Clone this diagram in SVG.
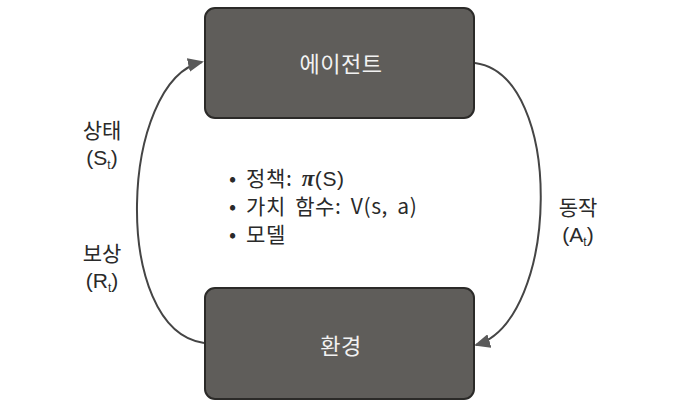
<svg xmlns="http://www.w3.org/2000/svg" width="682" height="409" viewBox="0 0 682 409">
<style>
.box{fill:#5f5d5a;stroke:#2b2a28;stroke-width:2}
.bt{font-family:"Noto Sans CJK KR","Noto Sans",sans-serif;font-size:22px;fill:#f2f2f2;text-anchor:middle;letter-spacing:0.5px}
.lb{font-family:"Noto Sans CJK KR","Liberation Sans",sans-serif;font-size:21px;fill:#2a2a2a;text-anchor:middle}
.lp{font-family:"Liberation Sans",Arial,sans-serif;font-size:21px;fill:#2a2a2a;text-anchor:middle}
.li{font-family:"Noto Sans CJK KR","Liberation Sans",sans-serif;font-size:21px;fill:#2a2a2a;word-spacing:4px;letter-spacing:0.6px}
.sub{font-size:12px}
.conn{fill:none;stroke:#454545;stroke-width:2}
</style>
<defs>
<marker id="ah" markerWidth="16" markerHeight="14" refX="14" refY="7" orient="auto" markerUnits="userSpaceOnUse">
<path d="M0,0 L16,7 L0,14 Z" fill="#5a5a5a"/>
</marker>
</defs>
<rect width="682" height="409" fill="#ffffff"/>
<g id="connectors">
<path class="conn" d="M204,343 C110,330 120,80 202,62" marker-end="url(#ah)"/>
<path class="conn" d="M475,63 C565,75 560,320 476,345" marker-end="url(#ah)"/>
</g>
<g id="agent">
<rect class="box" x="205" y="8" width="269" height="110" rx="10"/>
<text class="bt" x="341" y="72">에이전트</text>
</g>
<g id="environment">
<rect class="box" x="205" y="288" width="269" height="111" rx="10"/>
<text class="bt" x="341" y="354">환경</text>
</g>
<g id="labels">
<text class="lb" x="102" y="138">상태</text>
<text class="lp" x="102" y="165">(S<tspan class="sub" dy="4">t</tspan><tspan dy="-4">)</tspan></text>
<text class="lb" x="102" y="261">보상</text>
<text class="lp" x="102" y="288">(R<tspan class="sub" dy="4">t</tspan><tspan dy="-4">)</tspan></text>
<text class="lb" x="578" y="215">동작</text>
<text class="lp" x="578" y="242">(A<tspan class="sub" dy="4">t</tspan><tspan dy="-4">)</tspan></text>
</g>
<g id="info">
<text class="li" x="229" y="186">• 정책: <tspan font-family="Liberation Serif,serif" font-weight="bold" font-style="italic" font-size="23">π</tspan><tspan font-family="Liberation Sans,Arial,sans-serif">(S)</tspan></text>
<text class="li" x="229" y="214">• 가치 함수: V(s, a)</text>
<text class="li" x="229" y="242">• 모델</text>
</g>
</svg>
